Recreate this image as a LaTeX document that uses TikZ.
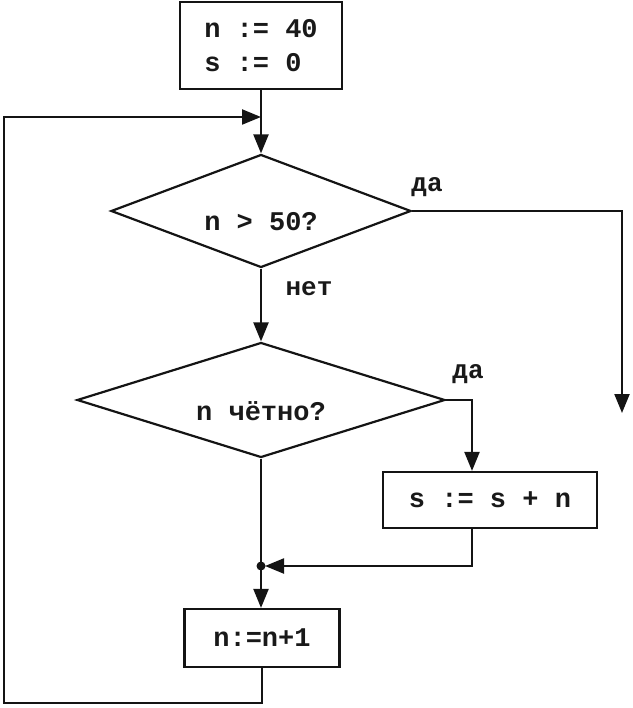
\documentclass[tikz,border=0pt]{standalone}
\usepackage{fontspec}
\newfontfamily\codefont{Liberation Mono}
\usetikzlibrary{
  shapes.geometric,
  arrows.meta,
  positioning,
  calc
}
\definecolor{linecolor}{RGB}{20, 20, 20}
\definecolor{textcolor}{RGB}{25, 25, 25}
\tikzset{
blocktext/.style={
  font=\codefont\bfseries\fontsize{27}{34}\selectfont,
  text=textcolor
},
actionblock/.style={
  draw=linecolor,
  line width=2.2pt,
  rectangle,
  inner sep=0pt,
  blocktext
},
decisionblock/.style={
  draw=linecolor,
  line width=2.2pt,
  diamond,
  inner sep=0pt,
  text height=40pt,
  text depth=0pt,
  blocktext
},
branchlabel/.style={
  font=\codefont\bfseries\fontsize{26}{30}\selectfont,
  text=textcolor
},
flow/.style={
  line width=2.2pt,
  draw=linecolor
},
arrow/.style={
  flow,
  -{Triangle[length=19pt,width=15pt]}
}
}

\begin{document}
\begin{tikzpicture}[x=1pt, y=-1pt]
\useasboundingbox (0,0) rectangle (632,708);

% ============================================================================
% BLOCKS
% ============================================================================
\node[actionblock, minimum width=162pt, minimum height=87pt, align=left]
  (init) at (261, 45.5) {n := 40\\s := 0};
\node[decisionblock, shape aspect=2.65, minimum width=300pt, minimum height=113pt]
  (cond1) at (261, 211) {n > 50?};
\node[decisionblock, shape aspect=3.2, minimum width=368pt, minimum height=115pt]
  (cond2) at (261, 400) {n чётно?};
\node[actionblock, minimum width=214pt, minimum height=56pt]
  (add) at (490, 500) {s := s + n};
\node[actionblock, minimum width=155pt, minimum height=58pt]
  (inc) at (262, 638) {n:=n+1};

% points for the connectors
\coordinate (loopin) at (261, 117);
\coordinate (join) at (261, 566);
\coordinate (exitend) at (622, 413);
\coordinate (loopcorner) at (4, 703);

% ============================================================================
% LABELS
% ============================================================================
\node[branchlabel] (yes1) at (427, 187) {да};
\node[branchlabel] (no1) at (309, 289) {нет};
\node[branchlabel] (yes2) at (468, 374) {да};

% ============================================================================
% CONNECTORS
% ============================================================================
\draw[arrow] (init.south) -- (cond1.north);
\draw[arrow] (cond1.east) -| (exitend);
\draw[arrow] (cond1.south) -- (cond2.north);
\draw[arrow] (cond2.east) -| ([xshift=-18pt]add.north);
\draw[arrow] ([xshift=-18pt]add.south) |- ([xshift=4pt]join);
\draw[arrow] (cond2.south) -- (join |- inc.north);
\fill[linecolor] (join) circle (4.5pt);
\draw[arrow] (inc.south) |- (loopcorner) |- (loopin);

\end{tikzpicture}
\end{document}
